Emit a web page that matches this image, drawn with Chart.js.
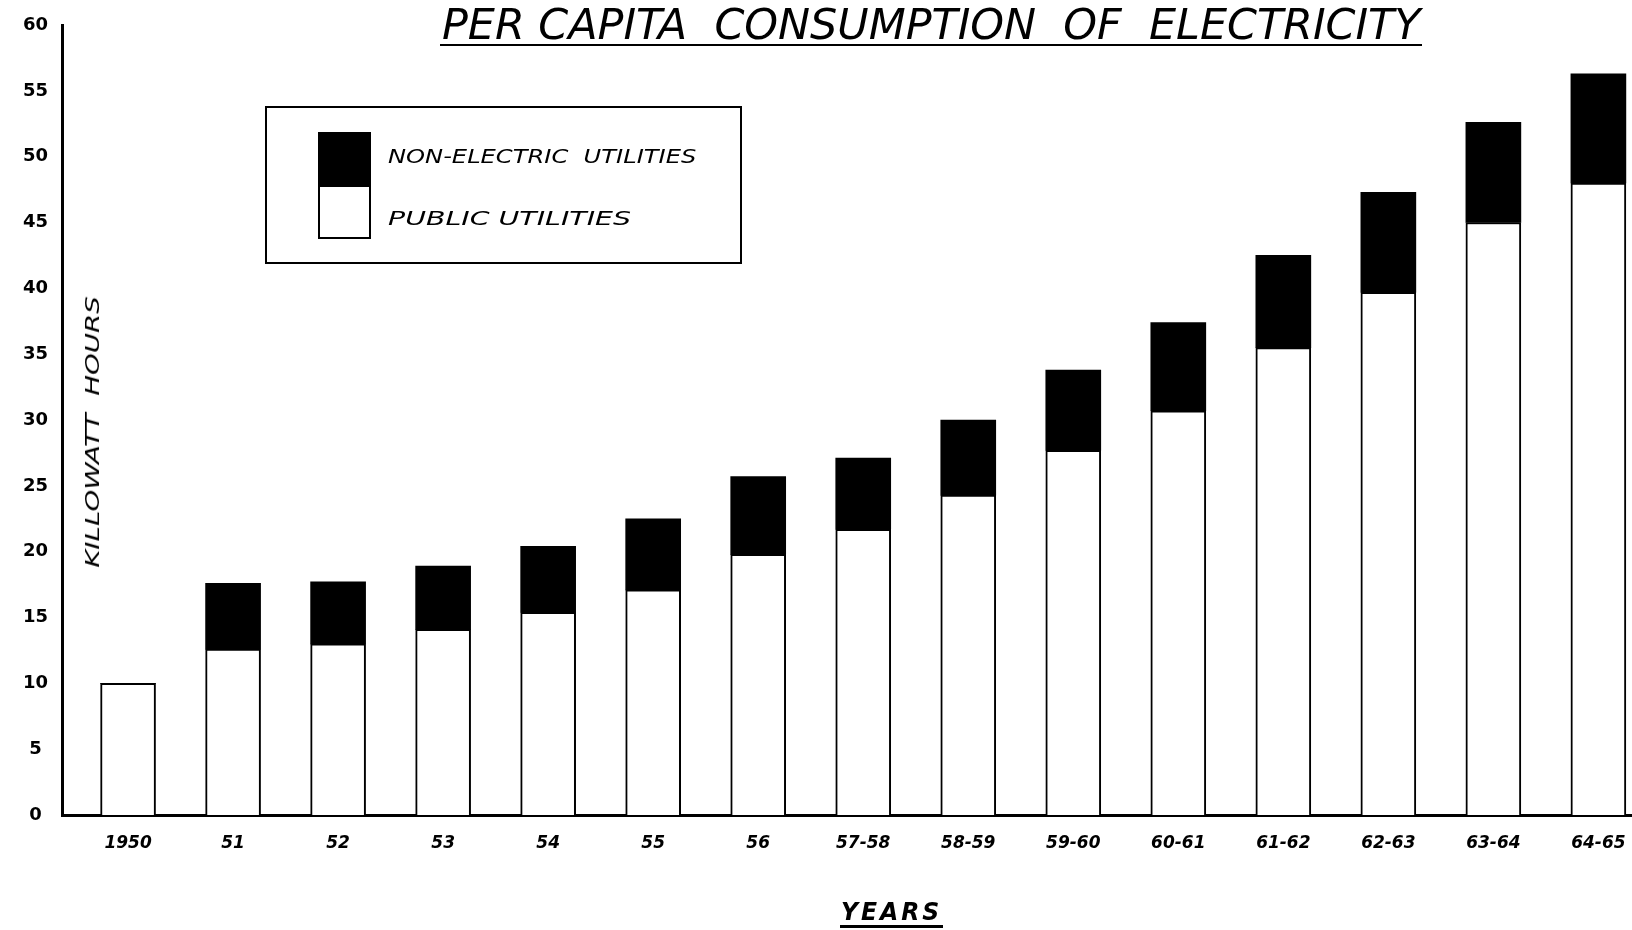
<!DOCTYPE html>
<html><head><meta charset="utf-8">
<script src="https://cdn.jsdelivr.net/npm/chart.js@4/dist/chart.umd.min.js"></script>
<style>
html,body{margin:0;padding:0;background:#fff;overflow:hidden;}
#wrap{position:relative;width:1632px;height:930px;background:#fff;}
#c{position:absolute;left:0;top:0;}
.t{position:absolute;color:#000;white-space:pre;font-family:"DejaVu Sans";line-height:1;}
#title{left:442px;top:4px;font-size:42px;font-style:oblique;font-family:"DejaVu Sans Condensed","DejaVu Sans";transform-origin:0 0;}
#titleLine{position:absolute;left:440px;top:44px;width:982px;height:2px;background:#000;}
#years{left:841px;top:900px;font-size:24px;font-weight:bold;font-style:oblique;letter-spacing:3px;transform-origin:0 0;}
#yearsLine{position:absolute;left:840px;top:925px;width:103px;height:3px;background:#000;}
#ytitle{left:92px;top:432px;font-size:20px;font-style:oblique;}
#legend{position:absolute;left:265px;top:106px;width:473px;height:154px;border:2px solid #000;box-sizing:content-box;}
#sw1{position:absolute;left:51px;top:24px;width:53px;height:55px;background:#000;}
#sw2{position:absolute;left:51px;top:79px;width:49px;height:50px;border:2px solid #000;border-top:none;background:#fff;}
.lt{position:absolute;left:121px;font-size:20px;font-style:oblique;color:#000;white-space:pre;font-family:"DejaVu Sans";line-height:1;transform-origin:0 0;}
</style>
</head><body>
<div id="wrap">
<canvas id="c" width="1632" height="930"></canvas>
<div class="t" id="title" data-w="979"></div>
<div id="titleLine"></div>
<div class="t" id="ytitle" data-w="272" data-rot="1"></div>
<div class="t" id="years" data-w="101"></div>
<div id="yearsLine"></div>
<div id="legend">
  <div id="sw1"></div><div id="sw2"></div>
  <div class="lt" id="lt1" style="top:38px" data-w="308"></div>
  <div class="lt" id="lt2" style="top:100px" data-w="243"></div>
</div>
</div>
<script>
// ---- data ----
const chartTitle = "PER CAPITA  CONSUMPTION  OF  ELECTRICITY";
const xTitle = "YEARS";
const yTitle = "KILLOWATT  HOURS";
const categories = ["1950","51","52","53","54","55","56","57-58","58-59","59-60","60-61","61-62","62-63","63-64","64-65"];
const publicUtilities      = [10.0,12.6,13.0,14.1,15.4,17.1,19.8,21.7,24.3,27.7,30.7,35.5,39.7,45.0,48.0];
const nonElectricUtilities = [0.0, 5.0, 4.7, 4.8, 5.0, 5.4, 5.9, 5.4, 5.7, 6.1, 6.7, 7.0, 7.6, 7.6, 8.3];
const yTickValues = [0,5,10,15,20,25,30,35,40,45,50,55,60];
const seriesLabels = ["NON-ELECTRIC  UTILITIES","PUBLIC UTILITIES"];

document.getElementById('title').textContent = chartTitle;
document.getElementById('years').textContent = xTitle;
document.getElementById('ytitle').textContent = yTitle;
document.getElementById('lt1').textContent = seriesLabels[0];
document.getElementById('lt2').textContent = seriesLabels[1];

document.querySelectorAll('[data-w]').forEach(el=>{
  const w = el.offsetWidth, target = +el.dataset.w;
  const k = target / w;
  if (el.dataset.rot) {
    el.style.transformOrigin = '50% 50%';
    el.style.transform = 'translate(-50%,-50%) rotate(-90deg) scaleX(' + k + ')';
  } else {
    el.style.transform = 'scaleX(' + k + ')';
  }
});

const tickFontX = {family:'DejaVu Sans', size:17, weight:'bold', style:'italic'};
const tickFontY = {family:'DejaVu Sans', size:18, weight:'bold'};

new Chart(document.getElementById('c'), {
  type: 'bar',
  data: {
    datasets: [
      {
        label: seriesLabels[1],
        data: categories.map((c,i)=>({x:i, y:publicUtilities[i]})),
        backgroundColor: '#ffffff',
        borderColor: '#000000',
        borderWidth: {top:2,left:2,right:2,bottom:0},
        borderSkipped: 'bottom',
        barThickness: 55,
        stack: 's'
      },
      {
        label: seriesLabels[0],
        data: categories.map((c,i)=>({x:i, y:nonElectricUtilities[i]})),
        backgroundColor: '#000000',
        borderWidth: 0,
        barThickness: 55,
        stack: 's'
      }
    ]
  },
  options: {
    responsive: false,
    animation: false,
    devicePixelRatio: 1,
    layout: {padding: {top:25, left:20, right:0, bottom:55}},
    plugins: {legend:{display:false}, title:{display:false}, tooltip:{enabled:false}},
    scales: {
      x: {
        type: 'linear', min: -0.629, max: 14.32, stacked: true, offset: false,
        grid: {display:false, drawTicks:false, offset:false},
        border: {display:true, color:'#000', width:3},
        afterBuildTicks: s => { s.ticks = categories.map((c,i)=>({value:i})); },
        afterFit: s => { s.height = 60; s.paddingLeft = 0; s.paddingRight = 0; },
        ticks: {padding:18, color:'#000', font: tickFontX, autoSkip:false, maxRotation:0, minRotation:0,
                callback: v => categories[v]}
      },
      y: {
        min: 0, max: 60, stacked: true,
        grid: {display:false, drawTicks:false},
        border: {display:true, color:'#000', width:3},
        afterBuildTicks: s => { s.ticks = yTickValues.map(v=>({value:v})); },
        afterFit: s => { s.width = 42; s.paddingTop = 0; s.paddingBottom = 0; },
        ticks: {padding:14, crossAlign:'center', color:'#000', font: tickFontY}
      }
    }
  }
});
</script>
</body></html>
